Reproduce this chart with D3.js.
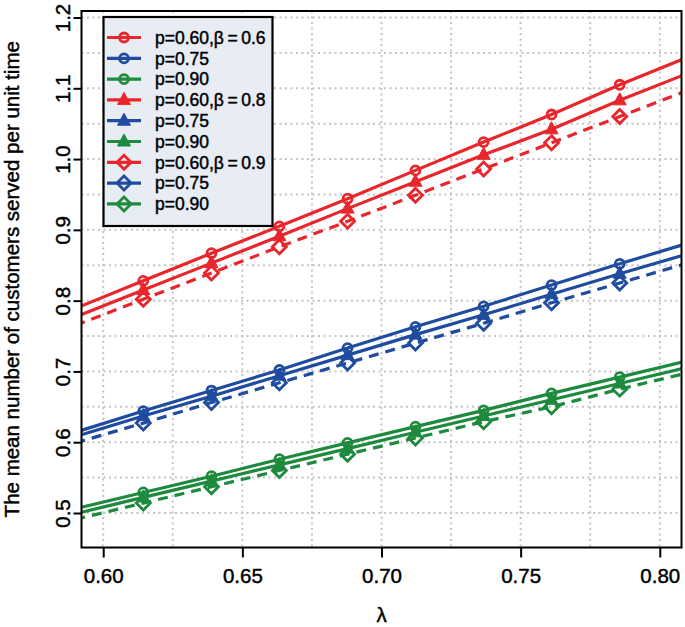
<!DOCTYPE html>
<html>
<head>
<meta charset="utf-8">
<script src="https://cdn.jsdelivr.net/npm/d3@7"></script>
<style>
  body { margin: 0; background: #fff; }
  svg text { font-family: "Liberation Sans", Arial, sans-serif; fill: #000; stroke: #000; stroke-width: 0.45px; }
</style>
</head>
<body>
<div class="chartContainer"></div>
<script>
// lambda grid (markers are drawn on the inner points only)
var lambda = [0.590, 0.6144, 0.6389, 0.6633, 0.6878, 0.7122, 0.7367, 0.7611, 0.7856, 0.810]

// beta = 0.6 (circles)
var b06p60 = [0.789, 0.828, 0.867, 0.905, 0.944, 0.984, 1.024, 1.063, 1.105, 1.144]
var b06p75 = [0.614, 0.644, 0.673, 0.702, 0.733, 0.763, 0.792, 0.822, 0.852, 0.881]
var b06p90 = [0.506, 0.529, 0.552, 0.576, 0.599, 0.622, 0.645, 0.669, 0.692, 0.715]
// beta = 0.8 (filled triangles)
var b08p60 = [0.777, 0.815, 0.853, 0.891, 0.930, 0.968, 1.006, 1.042, 1.083, 1.121]
var b08p75 = [0.608, 0.637, 0.665, 0.694, 0.723, 0.752, 0.780, 0.809, 0.838, 0.866]
var b08p90 = [0.499, 0.522, 0.545, 0.568, 0.591, 0.614, 0.637, 0.660, 0.683, 0.706]
// beta = 0.9 (open diamonds, dashed)
var b09p60 = [0.765, 0.802, 0.839, 0.876, 0.912, 0.949, 0.986, 1.023, 1.060, 1.097]
var b09p75 = [0.599, 0.627, 0.656, 0.684, 0.712, 0.740, 0.768, 0.797, 0.825, 0.853]
var b09p90 = [0.491, 0.514, 0.537, 0.560, 0.583, 0.606, 0.629, 0.650, 0.675, 0.698]

var legendLabels = ["p=0.60,\u03b2\u2009=\u20090.6", "p=0.75", "p=0.90",
                    "p=0.60,\u03b2\u2009=\u20090.8", "p=0.75", "p=0.90",
                    "p=0.60,\u03b2\u2009=\u20090.9", "p=0.75", "p=0.90"]
var xTicks = [0.60, 0.65, 0.70, 0.75, 0.80]
var yTicks = [0.5, 0.6, 0.7, 0.8, 0.9, 1.0, 1.1, 1.2]

var RED = "#e8262c", BLUE = "#1f4c9f", GREEN = "#1e8a3e"

var series = [
    { y: b06p60, color: RED,   shape: "circle",   dash: null },
    { y: b06p75, color: BLUE,  shape: "circle",   dash: null },
    { y: b06p90, color: GREEN, shape: "circle",   dash: null },
    { y: b08p60, color: RED,   shape: "triangle", dash: null },
    { y: b08p75, color: BLUE,  shape: "triangle", dash: null },
    { y: b08p90, color: GREEN, shape: "triangle", dash: null },
    { y: b09p60, color: RED,   shape: "diamond",  dash: "10,7" },
    { y: b09p75, color: BLUE,  shape: "diamond",  dash: "10,7" },
    { y: b09p90, color: GREEN, shape: "diamond",  dash: "10,7" }
]

var W = 685, H = 627
var box = { left: 81.5, right: 681.5, top: 11, bottom: 547.5 }

var x = d3.scaleLinear()
    .domain([0.5922, 0.8078])
    .range([box.left, box.right])

// 0.5 sits at y=513, 1.2 at y=17.5
var y = d3.scaleLinear()
    .domain([0.5, 1.2])
    .range([513, 17.5])

var svg = d3.select(".chartContainer")
    .append("svg")
    .attr("width", W)
    .attr("height", H)

svg.append("defs").append("clipPath")
    .attr("id", "plotClip")
    .append("rect")
    .attr("x", box.left)
    .attr("y", box.top)
    .attr("width", box.right - box.left)
    .attr("height", box.bottom - box.top)

// grid
var grid = svg.append("g").classed("grid", true)
grid.selectAll("line.vg")
    .data(d3.range(0, 9).map(i => 0.60 + i * 0.025))
    .enter()
    .append("line")
    .attr("x1", d => x(d)).attr("x2", d => x(d))
    .attr("y1", box.top).attr("y2", box.bottom)
grid.selectAll("line.hg")
    .data(d3.range(0, 15).map(i => 0.5 + i * 0.05))
    .enter()
    .append("line")
    .attr("x1", box.left).attr("x2", box.right)
    .attr("y1", d => y(d)).attr("y2", d => y(d))
grid.selectAll("line")
    .attr("stroke", "#c4c4c4")
    .attr("stroke-width", 2)
    .attr("stroke-dasharray", "2,3.5")

// symbols
function drawMarker(sel, shape, color) {
    if (shape === "circle") {
        sel.append("circle").attr("r", 4.5)
            .attr("fill", "none").attr("stroke", color).attr("stroke-width", 2.8)
    } else if (shape === "triangle") {
        sel.append("path").attr("d", "M0,-7.5L6.5,4.5L-6.5,4.5Z")
            .attr("fill", color).attr("stroke", color).attr("stroke-width", 1)
    } else {
        sel.append("path").attr("d", "M0,-7L7,0L0,7L-7,0Z")
            .attr("fill", "none").attr("stroke", color).attr("stroke-width", 2.8)
    }
}

var lineGen = d3.line()
    .x((d, i) => x(lambda[i]))
    .y(d => y(d))

var plot = svg.append("g").attr("clip-path", "url(#plotClip)")

series.forEach(function (s) {
    var g = plot.append("g")
    g.append("path")
        .attr("d", lineGen(s.y))
        .attr("fill", "none")
        .attr("stroke", s.color)
        .attr("stroke-width", 3.2)
        .attr("stroke-dasharray", s.dash)
    g.selectAll("g.pt")
        .data(s.y.slice(1, 9))
        .enter()
        .append("g")
        .attr("transform", (d, i) => "translate(" + x(lambda[i + 1]) + "," + y(d) + ")")
        .each(function () { drawMarker(d3.select(this), s.shape, s.color) })
})

// box
svg.append("rect")
    .attr("x", box.left).attr("y", box.top)
    .attr("width", box.right - box.left)
    .attr("height", box.bottom - box.top)
    .attr("fill", "none").attr("stroke", "#000").attr("stroke-width", 2)

// x axis
var xAxis = svg.append("g")
    .attr("transform", "translate(0," + box.bottom + ")")
    .call(d3.axisBottom(x).tickValues(xTicks).tickFormat(d3.format(".2f")).tickSize(10).tickPadding(8))
xAxis.select(".domain").remove()
xAxis.selectAll("line").attr("stroke-width", 2)
xAxis.selectAll("text").style("font-size", "20.5px").attr("dy", "0.85em")

// y axis
var yAxis = svg.append("g")
    .attr("transform", "translate(" + box.left + ",0)")
    .call(d3.axisLeft(y).tickValues(yTicks).tickFormat(d3.format(".1f")).tickSize(8))
yAxis.select(".domain").remove()
yAxis.selectAll("line").attr("stroke-width", 2)
yAxis.selectAll("text")
    .style("font-size", "20.5px")
    .attr("text-anchor", "middle")
    .attr("x", null).attr("dy", null)
    .attr("transform", "translate(-12,0) rotate(-90)")
    .attr("y", 0)

// titles
svg.append("text")
    .attr("x", x(0.70))
    .attr("y", 622)
    .attr("text-anchor", "middle")
    .style("font-size", "20.5px")
    .text("\u03bb")

svg.append("text")
    .attr("transform", "translate(19," + (box.top + box.bottom) / 2 + ") rotate(-90)")
    .attr("text-anchor", "middle")
    .style("font-size", "20.5px")
    .text("The mean number of customers served per unit time")

// legend
var legend = svg.append("g").classed("legend", true)
legend.append("rect")
    .attr("x", 103.5).attr("y", 17)
    .attr("width", 169).attr("height", 209)
    .attr("fill", "#e8ecf3")
    .attr("stroke", "#000").attr("stroke-width", 2.2)

var rows = legend.selectAll("g.row")
    .data(series)
    .enter()
    .append("g")
    .attr("transform", (d, i) => "translate(0," + (37.5 + i * 20.8) + ")")

rows.append("line")
    .attr("x1", 107).attr("x2", 141)
    .attr("stroke", d => d.color)
    .attr("stroke-width", 3.2)
rows.append("g")
    .attr("transform", "translate(124,0)")
    .each(function (d) { drawMarker(d3.select(this), d.shape, d.color) })
rows.append("text")
    .attr("x", 155)
    .attr("dy", "0.36em")
    .style("font-size", "17.5px")
    .text((d, i) => legendLabels[i])
</script>
</body>
</html>
